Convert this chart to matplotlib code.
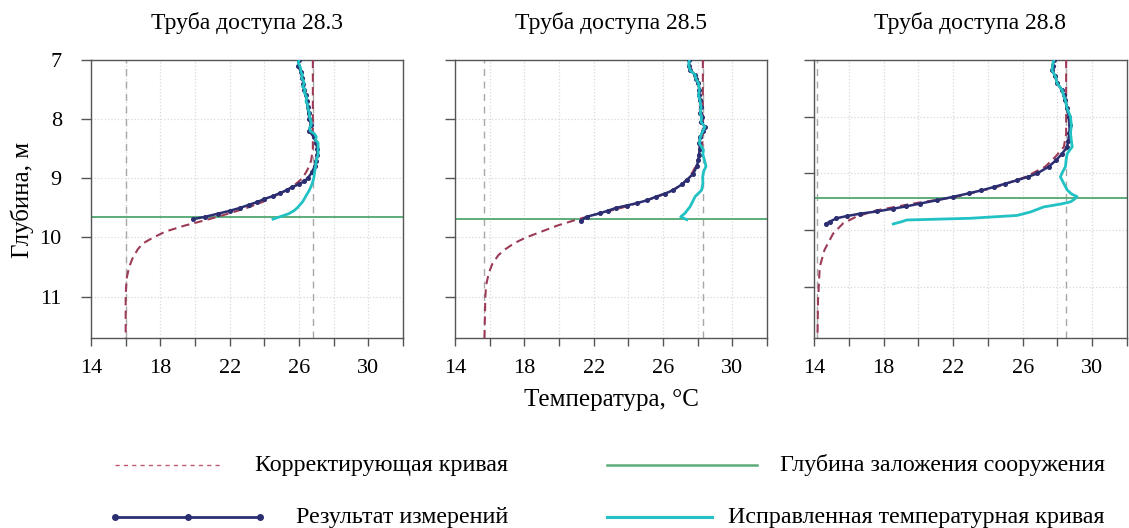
import matplotlib
matplotlib.use("Agg")
import matplotlib.pyplot as plt
from matplotlib.lines import Line2D

plt.rcParams['font.family'] = ['Liberation Serif', 'DejaVu Serif']

# ---------------- data ----------------
titles = ["Труба доступа 28.3", "Труба доступа 28.5", "Труба доступа 28.8"]
x_ticks = [14, 16, 18, 20, 22, 24, 26, 28, 30, 32]
x_ticklabels = ["14", "", "18", "", "22", "", "26", "", "30", ""]
y_ticks = [7, 8, 9, 10, 11]
y_ticklabels = ["7", "8", "9", "10", "11"]
y_bottom = [11.7, 11.7, 11.9]

# asymptote temperatures (gray dashed verticals)
t_low = [16.0, 15.7, 14.2]
t_high = [26.8, 28.3, 28.5]
# structure foundation depth
found_depth = [9.65, 9.69, 9.44]

# Panel 1 (28.3)
corr1_d = [7.0, 8.2, 8.5, 8.7, 8.85, 9.0, 9.1, 9.2, 9.3, 9.4, 9.5, 9.6, 9.7, 9.8, 9.9,
           10.0, 10.1, 10.2, 10.35, 10.5, 10.7, 11.0, 11.7]
corr1_t = [26.8, 26.8, 26.8, 26.7, 26.5, 26.2, 25.8, 25.3, 24.6, 23.9, 23.0, 21.9, 20.7,
           19.4, 18.3, 17.6, 17.0, 16.7, 16.4, 16.2, 16.05, 16.0, 16.0]
meas1_d = [7.0, 7.1, 7.2, 7.3, 7.4, 7.5, 7.6, 7.7, 7.8, 7.9, 8.0, 8.1, 8.2, 8.3, 8.4, 8.5,
           8.6, 8.7, 8.8, 8.9, 9.0, 9.05, 9.1, 9.15, 9.2, 9.25, 9.3, 9.35, 9.4, 9.45, 9.5,
           9.55, 9.6, 9.65, 9.69]
meas1_t = [26.0, 25.95, 26.1, 26.2, 26.25, 26.3, 26.4, 26.45, 26.5, 26.55, 26.6, 26.7,
           26.6, 26.85, 27.0, 27.05, 27.05, 27.0, 26.9, 26.75, 26.5, 26.3, 26.0, 25.6,
           25.3, 24.9, 24.5, 24.0, 23.6, 23.1, 22.6, 22.0, 21.3, 20.6, 19.9]
fix1_d = [7.0, 7.05, 7.1, 7.15, 7.2, 7.25, 7.3, 7.35, 7.4, 7.45, 7.5, 7.55, 7.6, 7.65, 7.7,
          7.75, 7.8, 7.85, 7.9, 7.95, 8.0, 8.05, 8.1, 8.15, 8.2, 8.25, 8.3, 8.35, 8.4, 8.5,
          8.6, 8.7, 8.8, 8.9, 9.0, 9.1, 9.2, 9.3, 9.4, 9.5, 9.55, 9.6, 9.65, 9.69]
fix1_t = [26.0, 25.95, 26.05, 26.1, 26.1, 26.2, 26.15, 26.25, 26.3, 26.2, 26.35, 26.3,
          26.4, 26.45, 26.4, 26.5, 26.5, 26.55, 26.6, 26.6, 26.65, 26.7, 26.7, 26.6, 26.65,
          26.9, 27.0, 26.95, 27.1, 27.1, 27.1, 27.0, 26.95, 26.9, 26.85, 26.75, 26.6, 26.4,
          26.2, 25.9, 25.7, 25.4, 24.9, 24.5]

# Panel 2 (28.5)
corr2_d = [7.0, 8.3, 8.5, 8.7, 8.9, 9.0, 9.1, 9.2, 9.3, 9.4, 9.5, 9.6, 9.7, 9.8, 9.9, 10.0,
           10.1, 10.2, 10.3, 10.45, 10.6, 10.8, 11.0, 11.7]
corr2_t = [28.3, 28.3, 28.25, 28.05, 27.7, 27.45, 27.1, 26.55, 25.8, 24.75, 23.6, 22.25,
           21.0, 19.9, 19.0, 18.1, 17.4, 16.9, 16.5, 16.15, 15.95, 15.8, 15.75, 15.7]
meas2_d = [7.0, 7.1, 7.17, 7.25, 7.32, 7.39, 7.5, 7.6, 7.68, 7.8, 7.9, 7.96, 8.05, 8.13,
           8.2, 8.3, 8.41, 8.5, 8.6, 8.69, 8.8, 8.92, 9.03, 9.1, 9.2, 9.26, 9.31, 9.37,
           9.42, 9.46, 9.5, 9.55, 9.59, 9.65, 9.72]
meas2_t = [27.52, 27.5, 27.56, 27.85, 27.9, 28.04, 28.1, 28.05, 28.13, 28.2, 28.15, 28.23,
           28.2, 28.42, 28.3, 28.15, 28.1, 28.12, 28.08, 28.04, 27.95, 27.75, 27.37, 27.1,
           26.6, 26.1, 25.6, 25.1, 24.5, 23.9, 23.3, 22.8, 22.37, 21.6, 21.25]
fix2_d = [7.0, 7.08, 7.17, 7.25, 7.32, 7.39, 7.5, 7.6, 7.68, 7.8, 7.9, 7.96, 8.05, 8.13,
          8.2, 8.3, 8.41, 8.52, 8.6, 8.7, 8.8, 8.88, 8.97, 9.08, 9.2, 9.31, 9.4, 9.48,
          9.54, 9.59, 9.65, 9.7]
fix2_t = [27.52, 27.48, 27.56, 27.85, 27.9, 28.04, 28.1, 28.05, 28.13, 28.2, 28.15, 28.23,
          28.2, 28.42, 28.3, 28.15, 28.1, 28.33, 28.3, 28.4, 28.48, 28.35, 28.29, 28.3,
          28.23, 27.85, 27.7, 27.56, 27.4, 27.27, 27.02, 27.37]

# Panel 3 (28.8)
corr3_d = [7.0, 8.3, 8.53, 8.7, 8.88, 9.06, 9.24, 9.41, 9.53, 9.65, 9.76, 9.88, 10.06,
           10.35, 10.65, 11.24, 11.9]
corr3_t = [28.5, 28.5, 28.37, 27.9, 27.3, 26.17, 24.5, 22.2, 19.7, 17.6, 16.44, 15.67,
           15.1, 14.6, 14.33, 14.23, 14.2]
meas3_d = [7.0, 7.1, 7.18, 7.29, 7.41, 7.53, 7.62, 7.71, 7.85, 8.0, 8.15, 8.29, 8.42,
           8.53, 8.65, 8.76, 8.88, 9.0, 9.06, 9.12, 9.18, 9.24, 9.3, 9.35, 9.41, 9.47,
           9.53, 9.58, 9.62, 9.67, 9.71, 9.75, 9.79, 9.85, 9.89]
meas3_t = [27.79, 27.72, 27.69, 27.88, 27.98, 28.27, 28.35, 28.46, 28.55, 28.65, 28.7,
           28.69, 28.62, 28.56, 28.27, 27.94, 27.5, 26.83, 26.3, 25.67, 25.0, 24.33, 23.6,
           22.9, 22.02, 21.1, 20.1, 19.3, 18.56, 17.6, 16.63, 15.9, 15.29, 14.9, 14.67]
fix3_d = [7.0, 7.1, 7.18, 7.29, 7.41, 7.53, 7.62, 7.71, 7.85, 8.0, 8.15, 8.29, 8.42, 8.53,
          8.65, 8.76, 8.88, 8.97, 9.06, 9.18, 9.29, 9.36, 9.41, 9.46, 9.5, 9.54, 9.59,
          9.68, 9.74, 9.79, 9.82, 9.85, 9.89]
fix3_t = [27.79, 27.72, 27.69, 27.88, 27.98, 28.27, 28.35, 28.46, 28.55, 28.75, 28.8,
          28.75, 28.8, 28.85, 28.56, 28.5, 28.46, 28.3, 28.17, 28.37, 28.56, 28.8, 29.13,
          28.95, 28.75, 28.17, 27.21, 26.44, 25.67, 22.98, 19.33, 19.04, 18.56]

corr_d = [corr1_d, corr2_d, corr3_d]
corr_t = [corr1_t, corr2_t, corr3_t]
meas_d = [meas1_d, meas2_d, meas3_d]
meas_t = [meas1_t, meas2_t, meas3_t]
fix_d = [fix1_d, fix2_d, fix3_d]
fix_t = [fix1_t, fix2_t, fix3_t]

legend_labels = ["Корректирующая кривая", "Результат измерений",
                 "Глубина заложения сооружения", "Исправленная температурная кривая"]

# ---------------- style ----------------
C_CORR = "#9c3b55"
C_MEAS = "#2c2e72"
C_FIX = "#22c1c3"
C_FOUND = "#5cad7a"
C_VLINE = "#a8a8a8"
C_SPINE = "#555555"

W, H = 1129, 528
fig = plt.figure(figsize=(W / 100, H / 100), dpi=100)

lefts = [91, 455, 814]
widths = [312, 312, 313]
top_px, bot_px = 60, 338

for i in range(3):
    ax = fig.add_axes([lefts[i] / W, 1 - bot_px / H, widths[i] / W, (bot_px - top_px) / H])
    ax.set_xlim(14, 32)
    ax.set_ylim(y_bottom[i], 7)
    ax.set_xticks(x_ticks)
    ax.set_xticklabels(x_ticklabels, fontsize=16)
    ax.set_yticks(y_ticks)
    if i == 0:
        ax.set_yticklabels(y_ticklabels, fontsize=16)
    else:
        ax.set_yticklabels([])
    ax.tick_params(axis='x', direction='out', length=6, width=1, color=C_SPINE, pad=9)
    ax.tick_params(axis='y', direction='out', length=7, width=1, color=C_SPINE, pad=14)
    ax.grid(True, color="#d9d9d9", linestyle=':', linewidth=0.9)
    ax.set_axisbelow(True)
    for s in ax.spines.values():
        s.set_color(C_SPINE)
        s.set_linewidth(1.0)

    ax.axvline(t_low[i], color=C_VLINE, linestyle=(0, (5, 4)), linewidth=1.0, zorder=1)
    ax.axvline(t_high[i], color=C_VLINE, linestyle=(0, (5, 4)), linewidth=1.0, zorder=1)
    ax.axhline(found_depth[i], color=C_FOUND, linewidth=1.4, zorder=2)
    ax.plot(corr_t[i], corr_d[i], color=C_CORR, linestyle=(0, (4, 2.5)), linewidth=1.5, zorder=3)
    ax.plot(meas_t[i], meas_d[i], color=C_MEAS, linewidth=1.8, marker='o', markersize=2.6,
            zorder=4)
    ax.plot(fix_t[i], fix_d[i], color=C_FIX, linewidth=2.0, zorder=5)
    ax.set_title(titles[i], fontsize=17, pad=22)

fig.text(22 / W, 1 - 200 / H, "Глубина, м", rotation=90, ha='center', va='center', fontsize=18)
fig.text(611 / W, 1 - 400 / H, "Температура, °C", ha='center', va='center', fontsize=18)

# ---------------- manual legend ----------------
def fx(px):
    return px / W

def fy(py):
    return 1 - py / H

fig.add_artist(Line2D([fx(115), fx(223)], [fy(465), fy(465)], color="#c0556e",
                      linestyle=(0, (3, 3)), linewidth=1.0))
fig.add_artist(Line2D([fx(115), fx(188), fx(260)], [fy(517)] * 3, color=C_MEAS,
                      linewidth=2.0, marker='o', markersize=4))
fig.add_artist(Line2D([fx(607), fx(757)], [fy(465), fy(465)], color=C_FOUND, linewidth=1.8))
fig.add_artist(Line2D([fx(607), fx(712)], [fy(517), fy(517)], color=C_FIX, linewidth=2.2))

fig.text(fx(508), fy(465), legend_labels[0], ha='right', va='center', fontsize=17.3)
fig.text(fx(508), fy(517), legend_labels[1], ha='right', va='center', fontsize=17.3)
fig.text(fx(1105), fy(465), legend_labels[2], ha='right', va='center', fontsize=17.3)
fig.text(fx(1105), fy(517), legend_labels[3], ha='right', va='center', fontsize=17.3)

fig.savefig("out.png", dpi=100)
